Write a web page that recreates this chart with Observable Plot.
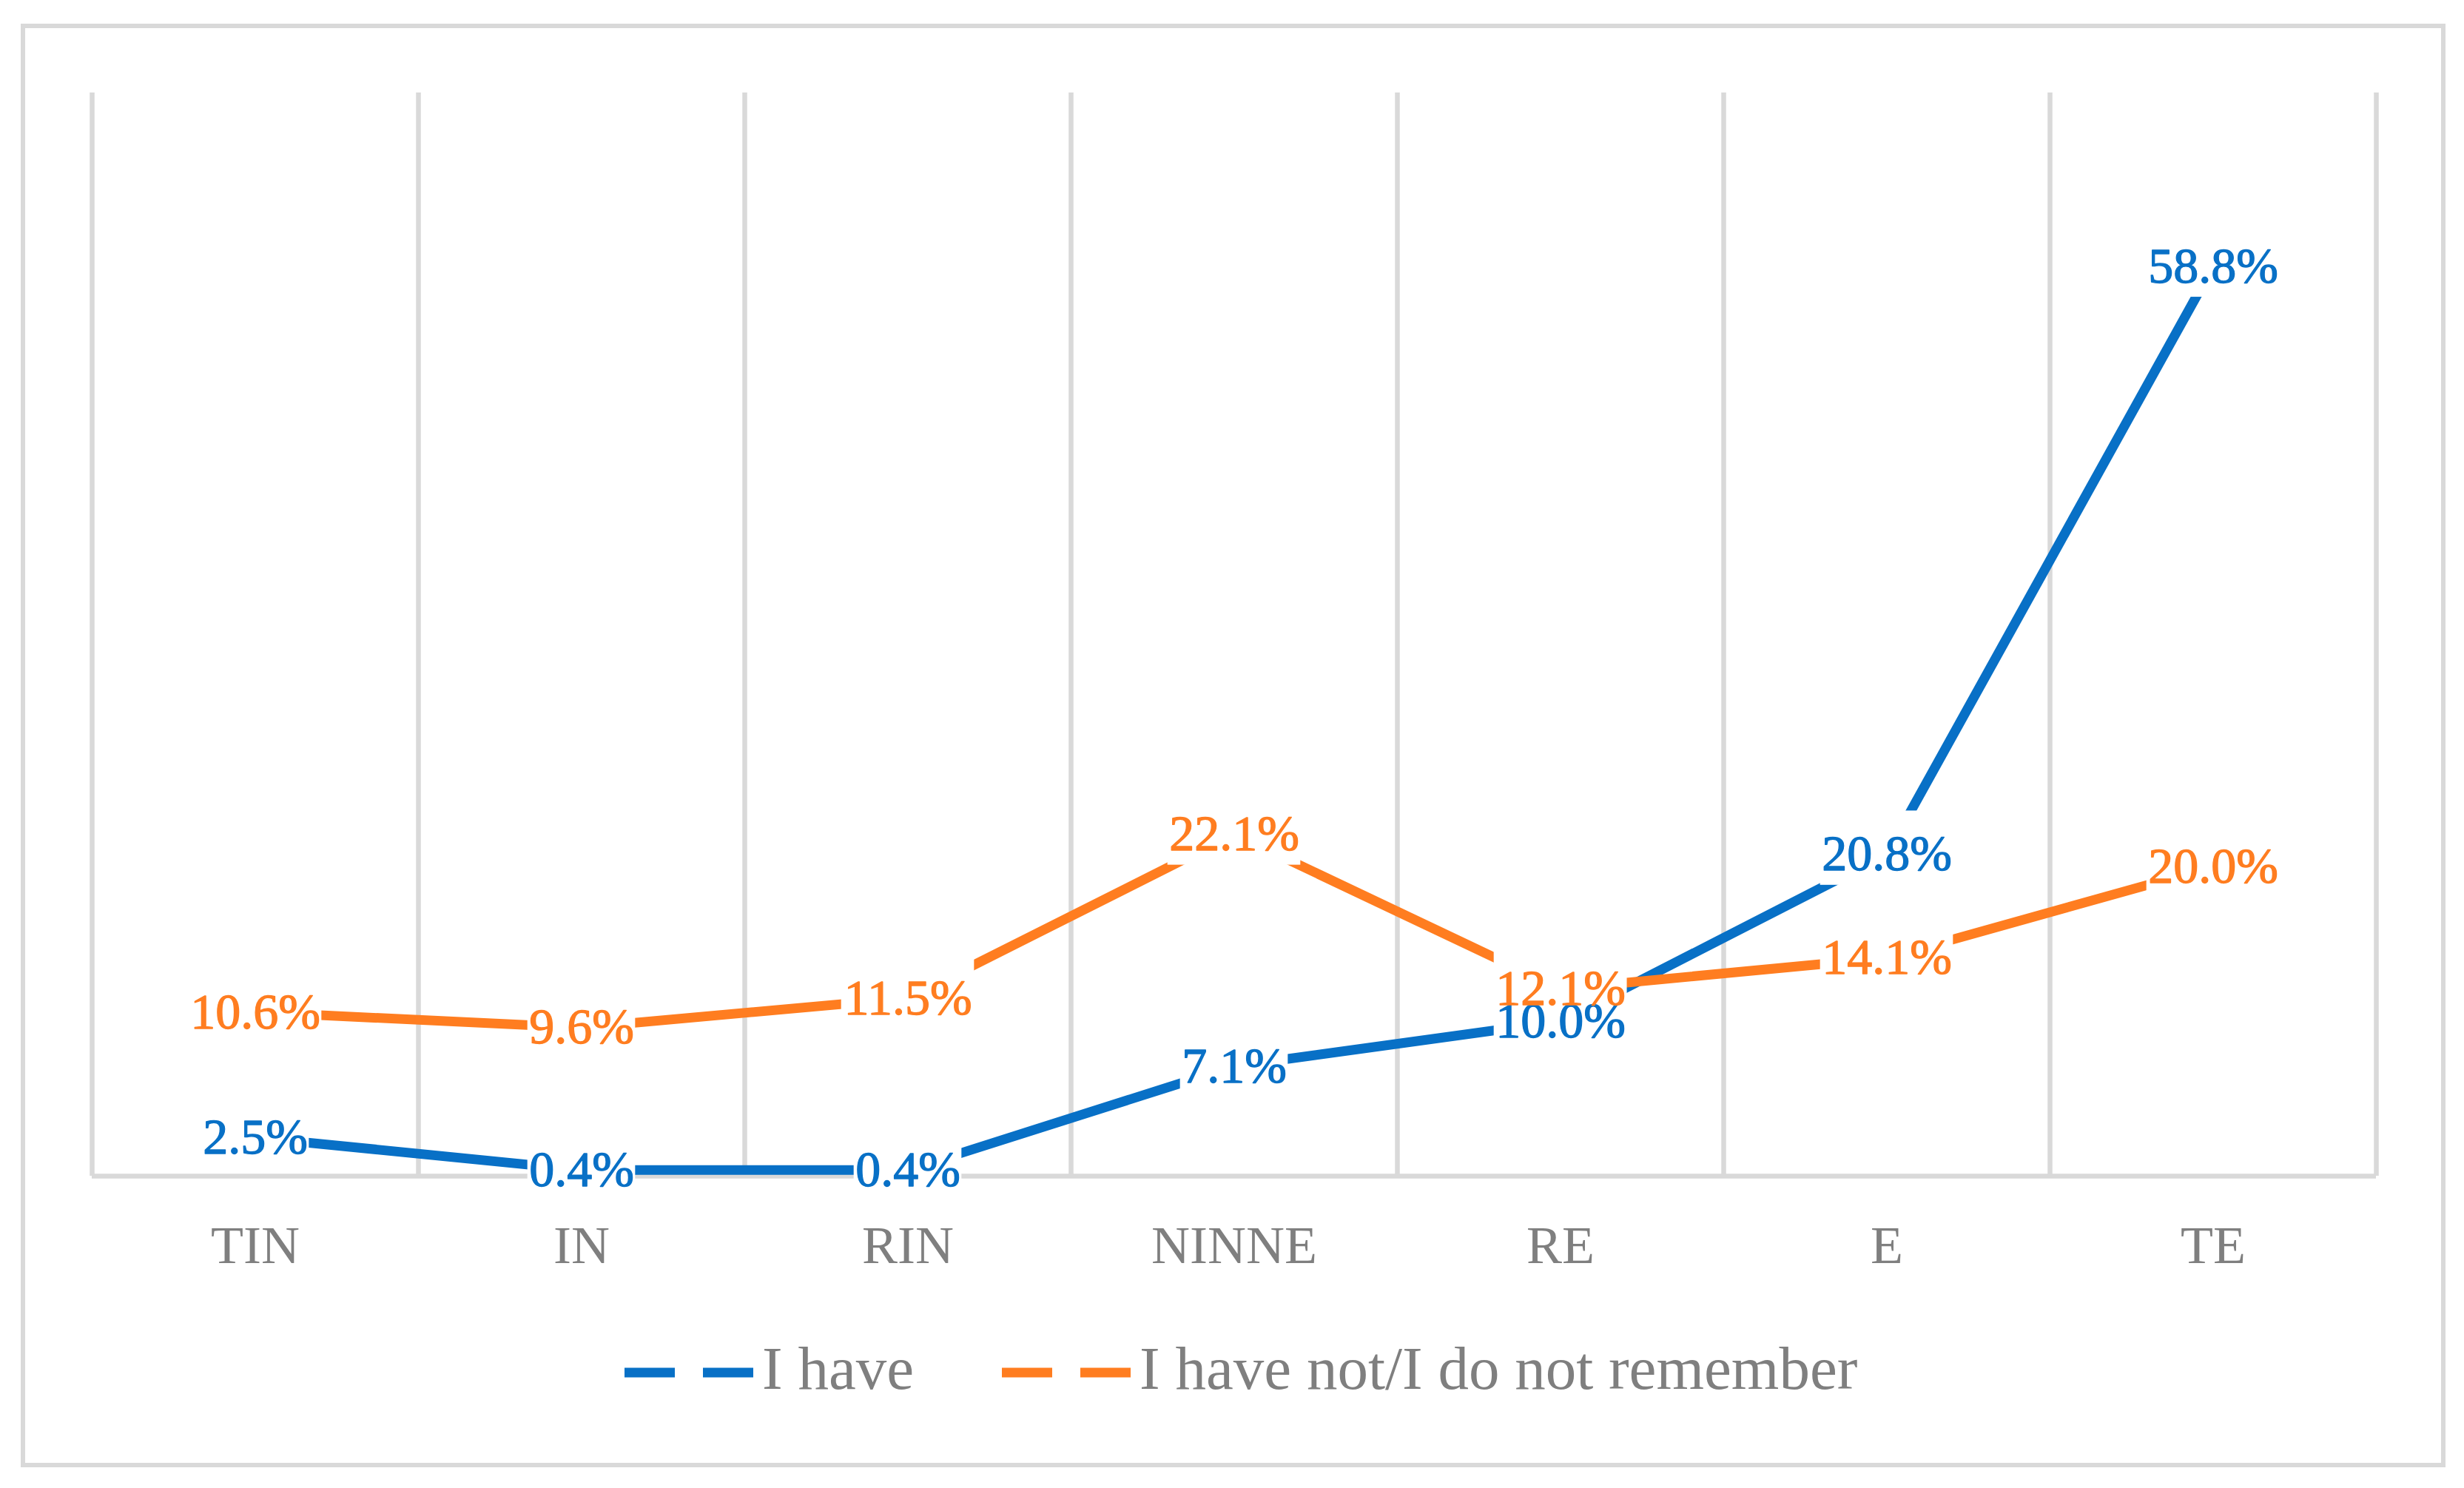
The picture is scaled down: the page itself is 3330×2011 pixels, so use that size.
<!DOCTYPE html>
<html><head><meta charset="utf-8">
<script src="https://cdn.jsdelivr.net/npm/d3@7"></script>
<script src="https://cdn.jsdelivr.net/npm/@observablehq/plot@0.6"></script>
<style>
html,body{margin:0;padding:0;background:#fff;}
#page{position:relative;width:3330px;height:2011px;overflow:hidden;background:#fff;}
#frame{position:absolute;left:28px;top:32px;width:3277px;height:1951px;box-sizing:border-box;border:6px solid #d9d9d9;}
#chart{position:absolute;left:0;top:0;}
#legend{position:absolute;left:844px;top:1808px;display:flex;align-items:flex-start;font-family:"Liberation Serif",serif;font-size:83px;line-height:83px;color:#7f7f7f;white-space:nowrap;}
.item{display:flex;align-items:flex-start;}
.item svg{display:block;margin-right:12px;}
.item + .item{margin-left:119px;}
</style></head>
<body><div id="page"><div id="frame"></div><div id="chart"></div><div id="legend"></div></div>
<script>
// ---- data ----
const categories = ["TIN", "IN", "RIN", "NINNE", "RE", "E", "TE"];
const seriesNames = ["I have", "I have not/I do not remember"];
const haveValues = [2.5, 0.4, 0.4, 7.1, 10.0, 20.8, 58.8];
const notValues = [10.6, 9.6, 11.5, 22.1, 12.1, 14.1, 20.0];
const seriesColors = ["#0870C6", "#FF7D20"];
const yDomain = [0, 70];

// ---- layout ----
const W = 3330, H = 1760, mL = 124, mR = 119, mT = 125, mB = 171;
const bw = (W - mL - mR) / categories.length;
const grid = "#d9d9d9";
const font = "Liberation Serif";
const labelPx = 68;

const seriesValues = [haveValues, notValues];
const rows = seriesNames.flatMap((s, si) =>
  categories.map((c, i) => ({cat: c, series: s, value: seriesValues[si][i]})));
const label = d => d.value.toFixed(1) + "%";
const textWidth = t => [...t].reduce((s, ch) => s + (ch === "." ? 0.25 : ch === "%" ? 0.833 : 0.5), 0) * labelPx;

// white label boxes (as in the source chart), one mark per label width
const boxMarks = Array.from(d3.group(rows, d => label(d).length), ([len, arr]) => {
  const inset = Math.max(0, (bw - textWidth(label(arr[0])) - 4) / 2);
  return Plot.barY(arr, {
    x: "cat", y1: d => d.value - 2.0, y2: d => d.value + 2.8,
    fill: "white", insetLeft: inset, insetRight: inset
  });
});

const chart = Plot.plot({
  width: W, height: H,
  marginLeft: mL, marginRight: mR, marginTop: mT, marginBottom: mB,
  style: {fontFamily: font, color: "#7f7f7f", background: "transparent", overflow: "visible"},
  x: {type: "band", domain: categories, padding: 0, axis: null},
  y: {domain: yDomain, axis: null},
  color: {domain: seriesNames, range: seriesColors},
  marks: [
    Plot.ruleX(categories, {x: d => d, y1: yDomain[0], y2: yDomain[1], dx: -bw / 2, stroke: grid, strokeWidth: 6.5}),
    Plot.ruleX([categories[categories.length - 1]], {x: d => d, y1: yDomain[0], y2: yDomain[1], dx: bw / 2, stroke: grid, strokeWidth: 6.5}),
    Plot.ruleY([0], {stroke: grid, strokeWidth: 6.5}),
    Plot.axisX({label: null, tickSize: 0, tickPadding: 66, fontSize: 72, fill: "#7f7f7f", fontFamily: font}),
    Plot.line(rows, {x: "cat", y: "value", z: "series", stroke: "series", strokeWidth: 13, strokeLinecap: "butt", strokeLinejoin: "round"}),
    ...boxMarks,
    Plot.text(rows, {x: "cat", y: "value", text: label, fill: "series", stroke: "series", strokeWidth: 1.3, fontSize: labelPx, fontFamily: font})
  ]
});
document.getElementById("chart").appendChild(chart);

// ---- legend ----
const legend = document.getElementById("legend");
seriesNames.forEach((name, i) => {
  const item = document.createElement("div");
  item.className = "item";
  const ns = "http://www.w3.org/2000/svg";
  const svg = document.createElementNS(ns, "svg");
  svg.setAttribute("width", 174); svg.setAttribute("height", 83);
  const ln = document.createElementNS(ns, "line");
  ln.setAttribute("x1", 0); ln.setAttribute("x2", 174);
  ln.setAttribute("y1", 47); ln.setAttribute("y2", 47);
  ln.setAttribute("stroke", seriesColors[i]);
  ln.setAttribute("stroke-width", 13);
  ln.setAttribute("stroke-dasharray", "68 38");
  svg.appendChild(ln);
  const span = document.createElement("span");
  span.textContent = name;
  item.appendChild(svg); item.appendChild(span);
  legend.appendChild(item);
});
</script>
</body></html>
